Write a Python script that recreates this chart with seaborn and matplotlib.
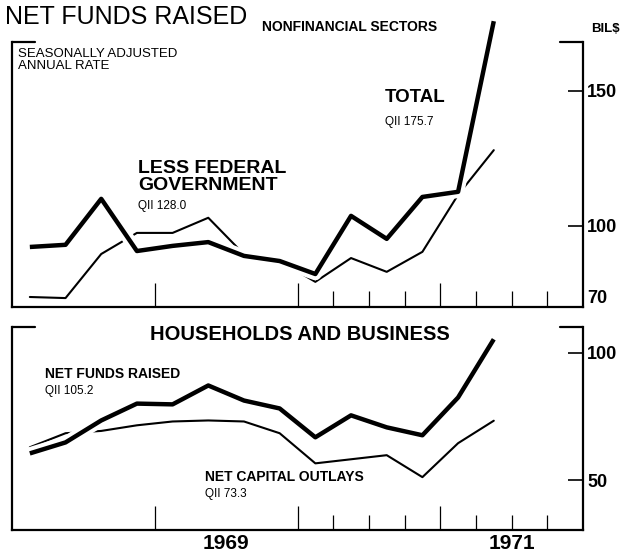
"""
Net funds raised by nonfinancial sectors, 1968-1971 (two panels).
Saves out.png (628x554).
"""
import numpy as np
import pandas as pd
import matplotlib
matplotlib.use("Agg")
import matplotlib.pyplot as plt
import matplotlib.patheffects as pe
import matplotlib.transforms as mtransforms
import seaborn as sns

# ── Data (billions of dollars, seasonally adjusted annual rate) ──────────────
quarters = ["1968Q1", "1968Q2", "1968Q3", "1968Q4",
            "1969Q1", "1969Q2", "1969Q3", "1969Q4",
            "1970Q1", "1970Q2", "1970Q3", "1970Q4",
            "1971Q1", "1971Q2"]

total        = [92.2, 93.0, 110.0, 90.7, 92.6, 94.0, 88.9, 87.0,
                82.2, 103.7, 95.2, 110.7, 112.6, 175.7]
less_federal = [73.7, 73.3, 89.6, 97.4, 97.4, 103.0, 89.5, 87.0,
                79.3, 88.1, 83.0, 90.4, 111.5, 128.0]

hh_net_funds = [60.5, 64.8, 73.4, 80.0, 79.7, 87.1, 81.2, 78.1,
                66.8, 75.4, 70.7, 67.6, 82.4, 105.2]
hh_capital   = [62.9, 68.4, 69.3, 71.5, 73.0, 73.4, 73.0, 68.4,
                56.6, 58.2, 59.8, 51.2, 64.5, 73.3]

top_ticks    = [70, 100, 150]
bottom_ticks = [50, 100]
year_labels  = ["1969", "1971"]

# ── Style ─────────────────────────────────────────────────────────────────────
sns.set_theme(style="white")
plt.rcParams["font.family"] = ["Liberation Sans", "DejaVu Sans"]
INK = "black"
W, H = 628, 554

q = pd.PeriodIndex(quarters, freq="Q")
xq = np.asarray(q.year + (q.quarter - 0.5) / 4, dtype=float)

df_top = pd.DataFrame({"x": xq, "total": total, "less_fed": less_federal})
df_bot = pd.DataFrame({"x": xq, "funds": hh_net_funds, "capital": hh_capital})

halo = [pe.Stroke(linewidth=9, foreground="white"), pe.Normal()]

fig = plt.figure(figsize=(W / 100, H / 100), dpi=100)
ax1 = fig.add_axes([12 / W, 1 - 307 / H, 571 / W, 265 / H])
ax2 = fig.add_axes([12 / W, 1 - 530 / H, 571 / W, 203 / H])


def draw_panel(ax, df, thin, thick, ylim, yticks, maj_len, min_len):
    sns.lineplot(data=df, x="x", y=thin, color=INK, lw=1.5, ax=ax,
                 legend=False, zorder=2)
    sns.lineplot(data=df, x="x", y=thick, color=INK, lw=3.2, ax=ax,
                 legend=False, zorder=3, path_effects=halo, clip_on=False,
                 solid_capstyle="butt")
    ax.set_xlim(1968, 1972)
    ax.set_ylim(*ylim)
    ax.set_xlabel("")
    ax.set_ylabel("")
    for side in ("left", "right", "bottom"):
        ax.spines[side].set_visible(True)
        ax.spines[side].set_color(INK)
        ax.spines[side].set_linewidth(1.6)
    ax.spines["top"].set_visible(False)
    # short corner pieces of the frame top
    ax.axhline(ylim[1], xmin=0, xmax=0.04, color=INK, lw=1.6, clip_on=False)
    ax.axhline(ylim[1], xmin=0.96, xmax=1.0, color=INK, lw=1.6, clip_on=False)

    ax.yaxis.tick_right()
    ax.set_yticks(yticks)
    ax.set_yticklabels([str(t) for t in yticks])
    ax.tick_params(axis="y", which="major", direction="in", length=11,
                   width=1.2, color=INK, labelsize=13, pad=3,
                   labelcolor=INK, left=False, right=True)
    for lab in ax.get_yticklabels():
        lab.set_fontweight("bold")

    ax.set_xticks([1969, 1970, 1971])
    ax.set_xticks([1970.25, 1970.5, 1970.75, 1971.25, 1971.5, 1971.75],
                  minor=True)
    ax.set_xticklabels([])
    ax.tick_params(axis="x", which="major", direction="in", length=maj_len,
                   width=0.9, color=INK, bottom=True, labelbottom=False)
    ax.tick_params(axis="x", which="minor", direction="in", length=min_len,
                   width=0.9, color=INK, bottom=True)
    ax.grid(False)


draw_panel(ax1, df_top, "less_fed", "total", (70, 168), top_ticks, 17, 11.5)
draw_panel(ax2, df_bot, "capital", "funds", (30.5, 110), bottom_ticks, 17, 11)

# lowest label of the top scale sits just above the baseline
ax1.get_yticklabels()[0].set_verticalalignment("bottom")

# year labels under the bottom panel
trans = mtransforms.blended_transform_factory(ax2.transData, ax2.transAxes)
for yr in year_labels:
    ax2.text(int(yr) + 0.5, -0.066, yr, transform=trans, ha="center",
             va="center", fontsize=15, fontweight="bold", color=INK)


def ftext(px, py, s, **kw):
    fig.text(px / W, 1 - py / H, s, color=INK, **kw)


# top panel annotations
ftext(5, 17, "NET FUNDS RAISED", fontsize=18, va="center", ha="left")
ftext(262, 27, "NONFINANCIAL SECTORS", fontsize=10, fontweight="bold",
      va="center", ha="left")
ftext(591, 29, "BIL$", fontsize=9.5, fontweight="bold", va="center",
      ha="left")
ftext(18, 60, "SEASONALLY ADJUSTED\nANNUAL RATE", fontsize=9.5,
      va="center", ha="left", linespacing=1.0)
ftext(385, 97, "TOTAL", fontsize=13.5, fontweight="bold", va="center",
      ha="left")
ftext(385, 122, "QII 175.7", fontsize=8.5, va="center", ha="left")
ftext(138, 177, "LESS FEDERAL\nGOVERNMENT", fontsize=14, fontweight="bold",
      va="center", ha="left", linespacing=1.0)
ftext(138, 206, "QII 128.0", fontsize=8.5, va="center", ha="left")

# bottom panel annotations
ftext(300, 335, "HOUSEHOLDS AND BUSINESS", fontsize=14.5, fontweight="bold",
      va="center", ha="center")
ftext(45, 374, "NET FUNDS RAISED", fontsize=10, fontweight="bold",
      va="center", ha="left")
ftext(45, 391, "QII 105.2", fontsize=8.5, va="center", ha="left")
ftext(205, 477, "NET CAPITAL OUTLAYS", fontsize=10, fontweight="bold",
      va="center", ha="left")
ftext(205, 494, "QII 73.3", fontsize=8.5, va="center", ha="left")

fig.savefig("out.png", dpi=100)
plt.close(fig)
